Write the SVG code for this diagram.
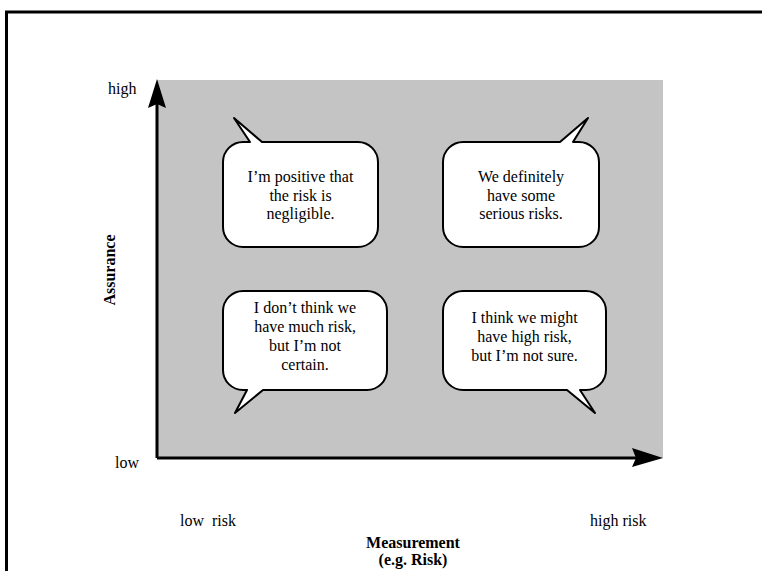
<svg xmlns="http://www.w3.org/2000/svg" width="762" height="571" viewBox="0 0 762 571">
<style>
  .frame { fill: none; stroke: #000; stroke-width: 3; }
  .field { fill: #c4c4c4; stroke: none; }
  .axis { fill: none; stroke: #000; stroke-width: 3; }
  .head { fill: #000; stroke: none; }
  .bubble { fill: #fff; stroke: #000; stroke-width: 2; stroke-linejoin: round; }
  .t { font-family: "Liberation Serif", "Times New Roman", serif; font-size: 16px; fill: #000; }
  .c { text-anchor: middle; }
  .b { font-weight: bold; }
</style>
<rect width="762" height="571" fill="#fff"/>
<path class="frame" d="M6.5,575 V12 H766"/>
<rect class="field" x="157" y="80" width="506" height="378"/>

<g id="axes">
  <line class="axis" x1="157" y1="458" x2="157" y2="100"/>
  <path class="head" d="M157,79 L166,108 L157,104 L148,108 Z"/>
  <line class="axis" x1="157" y1="458" x2="640" y2="458"/>
  <path class="head" d="M663,458 L632,467 L636,458 L632,448 Z"/>
</g>

<g id="labels">
  <text class="t" x="108" y="94">high</text>
  <text class="t" x="115" y="468">low</text>
  <text class="t" x="180" y="526" xml:space="preserve">low  risk</text>
  <text class="t" x="590" y="526">high risk</text>
  <text class="t c b" x="413" y="548">Measurement</text>
  <text class="t c b" x="413" y="565">(e.g. Risk)</text>
  <text class="t c b" transform="translate(115,270) rotate(-90)">Assurance</text>
</g>

<g id="bubble-high-low">
  <path class="bubble" d="M243,142 H250 L234,118 L262,142 H358 A20,20 0 0 1 378,162 V227 A20,20 0 0 1 358,247 H243 A20,20 0 0 1 223,227 V162 A20,20 0 0 1 243,142 Z"/>
  <text class="t c" x="300.5" y="182">I’m positive that</text>
  <text class="t c" x="300.5" y="200.5">the risk is</text>
  <text class="t c" x="300.5" y="219">negligible.</text>
</g>

<g id="bubble-high-high">
  <path class="bubble" d="M463,142 H560 L588,118 L573,142 H579 A20,20 0 0 1 599,162 V227 A20,20 0 0 1 579,247 H463 A20,20 0 0 1 443,227 V162 A20,20 0 0 1 463,142 Z"/>
  <text class="t c" x="521" y="182">We definitely</text>
  <text class="t c" x="521" y="200.5">have some</text>
  <text class="t c" x="521" y="219">serious risks.</text>
</g>

<g id="bubble-low-low">
  <path class="bubble" d="M243,291 H367 A20,20 0 0 1 387,311 V370 A20,20 0 0 1 367,390 H263 L235,413 L247,390 H243 A20,20 0 0 1 223,370 V311 A20,20 0 0 1 243,291 Z"/>
  <text class="t c" x="305" y="313">I don’t think we</text>
  <text class="t c" x="305" y="332">have much risk,</text>
  <text class="t c" x="305" y="351">but I’m not</text>
  <text class="t c" x="305" y="370">certain.</text>
</g>

<g id="bubble-low-high">
  <path class="bubble" d="M463,291 H586 A20,20 0 0 1 606,311 V370 A20,20 0 0 1 586,390 H580 L595,413 L567,390 H463 A20,20 0 0 1 443,370 V311 A20,20 0 0 1 463,291 Z"/>
  <text class="t c" x="524.5" y="323">I think we might</text>
  <text class="t c" x="524.5" y="342">have high risk,</text>
  <text class="t c" x="524.5" y="361">but I’m not sure.</text>
</g>
</svg>
